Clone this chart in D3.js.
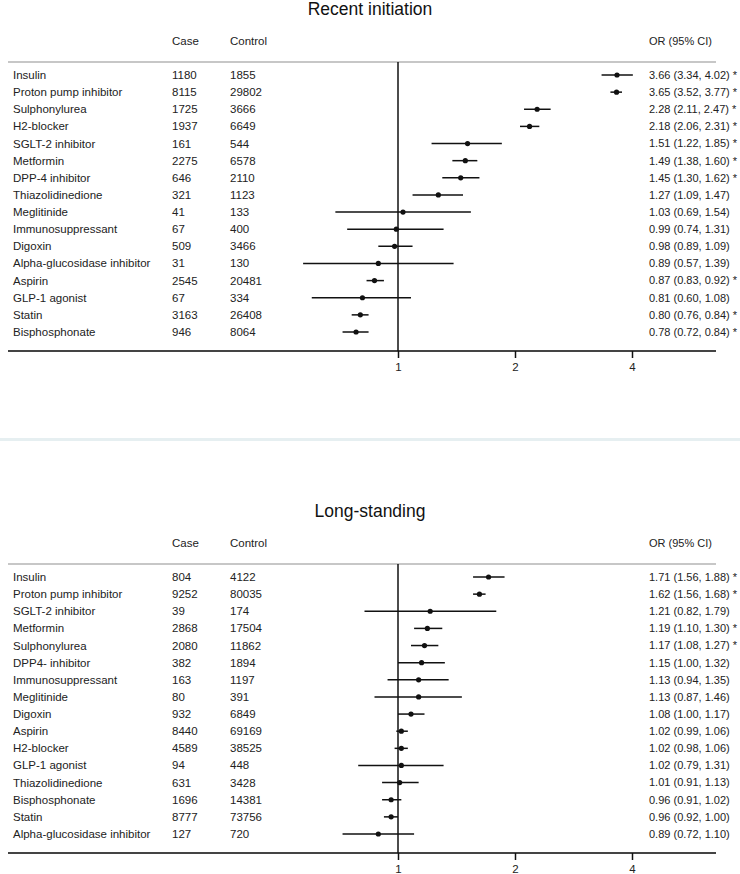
<!DOCTYPE html>
<html>
<head>
<meta charset="utf-8">
<script src="https://cdn.jsdelivr.net/npm/d3@7"></script>
<style>
  html, body { margin: 0; padding: 0; background: #fff; }
  svg { display: block; font-family: "Liberation Sans", Arial, sans-serif; }
</style>
</head>
<body>
<svg id="chart" width="740" height="874"></svg>
<script>
// ---------- data ----------
const recentDrugs = ["Insulin","Proton pump inhibitor","Sulphonylurea","H2-blocker","SGLT-2 inhibitor","Metformin","DPP-4 inhibitor","Thiazolidinedione","Meglitinide","Immunosuppressant","Digoxin","Alpha-glucosidase inhibitor","Aspirin","GLP-1 agonist","Statin","Bisphosphonate"];
const recentCase = [1180,8115,1725,1937,161,2275,646,321,41,67,509,31,2545,67,3163,946];
const recentControl = [1855,29802,3666,6649,544,6578,2110,1123,133,400,3466,130,20481,334,26408,8064];
const recentOR = [3.66,3.65,2.28,2.18,1.51,1.49,1.45,1.27,1.03,0.99,0.98,0.89,0.87,0.81,0.80,0.78];
const recentLo = [3.34,3.52,2.11,2.06,1.22,1.38,1.30,1.09,0.69,0.74,0.89,0.57,0.83,0.60,0.76,0.72];
const recentHi = [4.02,3.77,2.47,2.31,1.85,1.60,1.62,1.47,1.54,1.31,1.09,1.39,0.92,1.08,0.84,0.84];
const recentSig = [1,1,1,1,1,1,1,0,0,0,0,0,1,0,1,1];

const longDrugs = ["Insulin","Proton pump inhibitor","SGLT-2 inhibitor","Metformin","Sulphonylurea","DPP4- inhibitor","Immunosuppressant","Meglitinide","Digoxin","Aspirin","H2-blocker","GLP-1 agonist","Thiazolidinedione","Bisphosphonate","Statin","Alpha-glucosidase inhibitor"];
const longCase = [804,9252,39,2868,2080,382,163,80,932,8440,4589,94,631,1696,8777,127];
const longControl = [4122,80035,174,17504,11862,1894,1197,391,6849,69169,38525,448,3428,14381,73756,720];
const longOR = [1.71,1.62,1.21,1.19,1.17,1.15,1.13,1.13,1.08,1.02,1.02,1.02,1.01,0.96,0.96,0.89];
const longLo = [1.56,1.56,0.82,1.10,1.08,1.00,0.94,0.87,1.00,0.99,0.98,0.79,0.91,0.91,0.92,0.72];
const longHi = [1.88,1.68,1.79,1.30,1.27,1.32,1.35,1.46,1.17,1.06,1.06,1.31,1.13,1.02,1.00,1.10];
const longSig = [1,1,0,1,1,0,0,0,0,0,0,0,0,0,0,0];

const tickValues = [1,2,4];
const panelTitles = ["Recent initiation","Long-standing"];
const headers = ["Case","Control","OR (95% CI)"];

// ---------- drawing ----------
const svg = d3.select("#chart");
const x = d3.scaleLog().base(2).domain([1,4]).range([398,632]);
const fmt = d3.format(".2f");

function panel(top, title, drugs, cases, controls, or, lo, hi, sig) {
  const g = svg.append("g").attr("transform", `translate(0,${top})`);
  const rows = drugs.map((d,i) => ({drug:d, c:cases[i], k:controls[i], or:or[i], lo:lo[i], hi:hi[i], sig:sig[i]}));
  const y = d3.scalePoint().domain(d3.range(rows.length)).range([75, 332]);

  g.append("text").attr("x", 370).attr("y", 15).attr("text-anchor","middle")
    .attr("font-size", 17.5).attr("fill","#111").text(title);

  g.append("text").attr("x",172).attr("y",41).attr("dy","0.35em").attr("font-size",11.5).attr("fill","#222").text(headers[0]);
  g.append("text").attr("x",230).attr("y",41).attr("dy","0.35em").attr("font-size",11.5).attr("fill","#222").text(headers[1]);
  g.append("text").attr("x",649).attr("y",41).attr("dy","0.35em").attr("font-size",11).attr("fill","#222").text(headers[2]);

  // top rule
  g.append("line").attr("x1",8).attr("x2",716).attr("y1",62).attr("y2",62)
    .attr("stroke","#b4b4b4").attr("stroke-width",1.5);

  // axis rule
  const axisY = 351;
  g.append("line").attr("x1",8).attr("x2",716).attr("y1",axisY).attr("y2",axisY)
    .attr("stroke","#444").attr("stroke-width",2);

  // reference line at 1
  g.append("line").attr("x1",x(1)).attr("x2",x(1)).attr("y1",62).attr("y2",axisY)
    .attr("stroke","#111").attr("stroke-width",1.5);

  const axis = d3.axisBottom(x).tickValues(tickValues).tickFormat(d3.format("d")).tickSize(7).tickPadding(5);
  const ag = g.append("g").attr("transform",`translate(0,${axisY})`).call(axis);
  ag.select(".domain").remove();
  ag.selectAll(".tick line").attr("stroke","#111").attr("stroke-width",1.5);
  ag.selectAll(".tick text").attr("font-size",11.5).attr("fill","#222").attr("font-family","Liberation Sans, Arial, sans-serif");

  const r = g.selectAll("g.row").data(rows).join("g").attr("class","row")
    .attr("transform",(d,i)=>`translate(0,${y(i)})`);
  r.append("text").attr("x",13).attr("dy","0.35em").attr("font-size",11.5).attr("fill","#222").text(d=>d.drug);
  r.append("text").attr("x",172).attr("dy","0.35em").attr("font-size",11.5).attr("fill","#222").text(d=>d.c);
  r.append("text").attr("x",230).attr("dy","0.35em").attr("font-size",11.5).attr("fill","#222").text(d=>d.k);
  r.append("text").attr("x",649).attr("dy","0.35em").attr("font-size",11).attr("fill","#222")
    .text(d=>`${fmt(d.or)} (${fmt(d.lo)}, ${fmt(d.hi)})${d.sig ? " *" : ""}`);
  r.append("line").attr("x1",d=>x(d.lo)).attr("x2",d=>x(d.hi)).attr("y1",0).attr("y2",0)
    .attr("stroke","#111").attr("stroke-width",1.5);
  r.append("circle").attr("cx",d=>x(d.or)).attr("cy",0).attr("r",2.6).attr("fill","#111");
}

panel(0, panelTitles[0], recentDrugs, recentCase, recentControl, recentOR, recentLo, recentHi, recentSig);
// separator
svg.append("rect").attr("x",0).attr("y",438).attr("width",740).attr("height",3).attr("fill","#e6eff1");
panel(502, panelTitles[1], longDrugs, longCase, longControl, longOR, longLo, longHi, longSig);
</script>
</body>
</html>
